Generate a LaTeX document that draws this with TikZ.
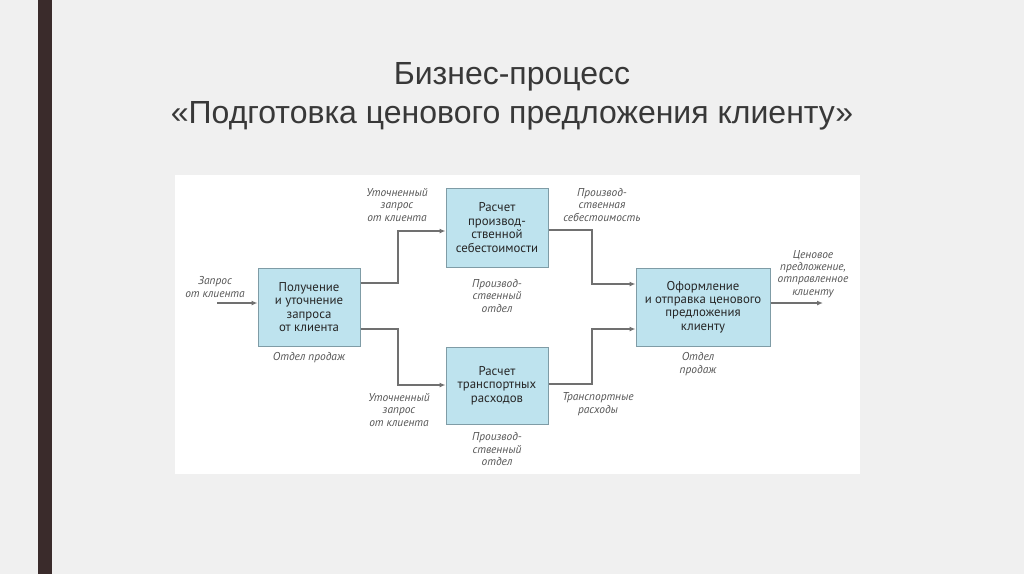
\documentclass[tikz,border=0pt]{standalone}
\usepackage{fontspec}
\setmainfont{Liberation Sans}
\newfontfamily\dfont{PT Sans}
\usetikzlibrary{arrows.meta}
\definecolor{bg}{HTML}{F0F0F0}
\definecolor{bar}{HTML}{3A2B2B}
\definecolor{boxfill}{HTML}{BEE3EE}
\definecolor{boxline}{HTML}{7F9CA6}
\definecolor{lbl}{HTML}{555555}
\definecolor{arr}{HTML}{707070}
\begin{document}
\begin{tikzpicture}[x=1pt,y=-1pt,
  proc/.style={draw=boxline,fill=boxfill,line width=1pt,align=center,font=\dfont\fontsize{12.8}{13.4}\selectfont,text=black!85,inner sep=0pt},
  lab/.style={align=center,font=\dfont\itshape\fontsize{11.4}{12.3}\selectfont,text=lbl,inner sep=0pt},
  conn/.style={draw=arr,line width=1.2pt,-{Latex[length=6pt,width=5pt]}}]
\fill[bg] (0,0) rectangle (1024,574);
\useasboundingbox (0,0) rectangle (1024,574);
\fill[bar] (38,0) rectangle (52,574);
\fill[white] (175,175) rectangle (860,474);
\node[font=\fontsize{32}{36}\selectfont,text=black!78] (t1) at (512,77) {Бизнес-процесс};
\node[font=\fontsize{32}{36}\selectfont,text=black!78] (t2) at (512,116) {«Подготовка ценового предложения клиенту»};
\node[proc,minimum width=102pt,minimum height=78pt] (b1) at (309,307) {Получение\\и уточнение\\запроса\\от клиента};
\node[proc,minimum width=102pt,minimum height=79pt] (b2) at (497,227.5) {Расчет\\производ-\\ственной\\себестоимости};
\node[proc,minimum width=102pt,minimum height=77pt] (b3) at (497,385.5) {Расчет\\транспортных\\расходов};
\node[proc,minimum width=134pt,minimum height=78pt] (b4) at (703,307) {Оформление\\и отправка ценового\\предложения\\клиенту};
\coordinate (in) at (217,303);
\coordinate (out) at (823,303);
\coordinate (k1) at (398,283);
\coordinate (k2) at (398,231);
\coordinate (k3) at (398,329);
\coordinate (k4) at (398,385);
\coordinate (m1) at (592,230);
\coordinate (m2) at (592,284);
\coordinate (m3) at (592,384);
\coordinate (m4) at (592,329);
\draw[conn] (in) -- (in -| b1.west);
\draw[conn] (k1 -| b1.east) -- (k1) -- (k2) -- (k2 -| b2.west);
\draw[conn] (k3 -| b1.east) -- (k3) -- (k4) -- (k4 -| b3.west);
\draw[conn] (m1 -| b2.east) -- (m1) -- (m2) -- (m2 -| b4.west);
\draw[conn] (m3 -| b3.east) -- (m3) -- (m4) -- (m4 -| b4.west);
\draw[conn] (out -| b4.east) -- (out);
\node[lab] (l1) at (215,287) {Запрос\\от клиента};
\node[lab] (l2) at (397,205) {Уточненный\\запрос\\от клиента};
\node[lab] (l3) at (399,410) {Уточненный\\запрос\\от клиента};
\node[lab] (l4) at (309,358) {Отдел продаж};
\node[lab] (l5) at (497,296) {Производ-\\ственный\\отдел};
\node[lab] (l6) at (497,449) {Производ-\\ственный\\отдел};
\node[lab] (l7) at (602,205) {Производ-\\ственная\\себестоимость};
\node[lab] (l8) at (598,404) {Транспортные\\расходы};
\node[lab] (l9) at (698,364) {Отдел\\продаж};
\node[lab] (l10) at (813,274) {Ценовое\\предложение,\\отправленное\\клиенту};
\end{tikzpicture}
\end{document}
